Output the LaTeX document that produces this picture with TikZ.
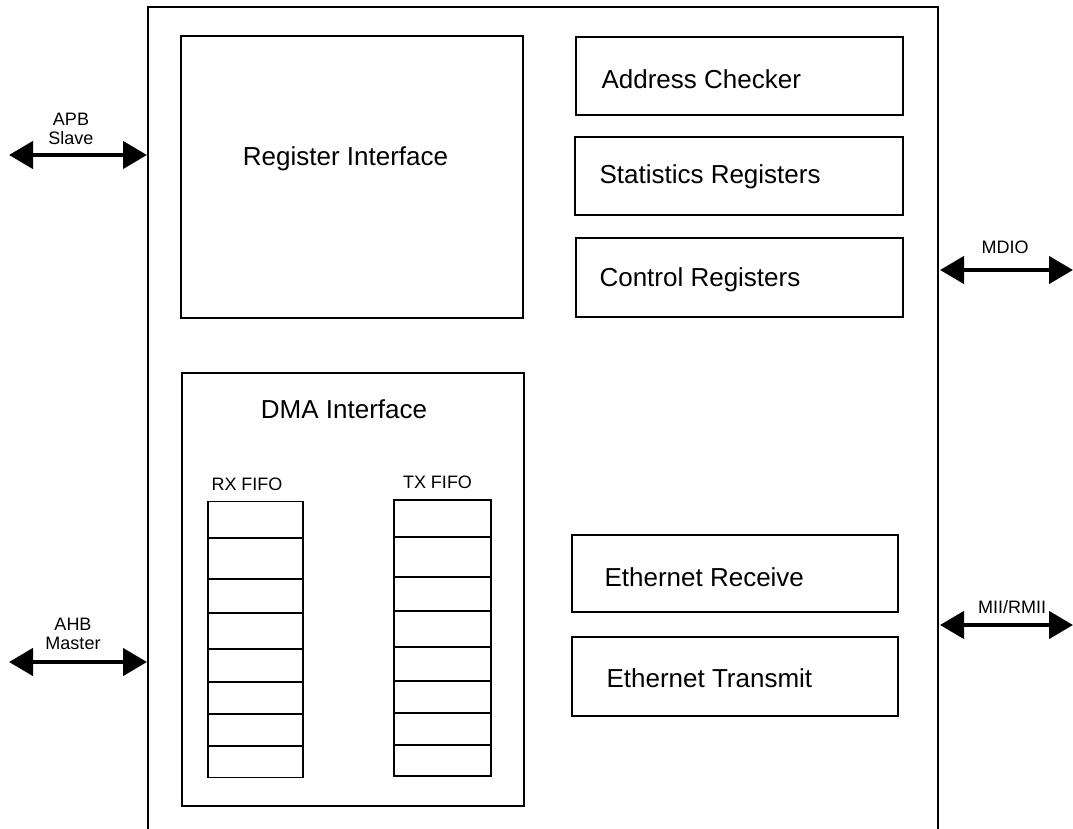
\documentclass[tikz,border=0pt]{standalone}
\usepackage{fontspec}
\setmainfont{Liberation Sans}
\usetikzlibrary{arrows.meta}
\begin{document}
\begin{tikzpicture}[x=1pt,y=-1pt,
  blk/.style={draw, line width=1.8pt, rectangle, inner sep=0pt},
  big/.style={font=\fontsize{26}{30}\selectfont},
  small/.style={font=\fontsize{18}{19}\selectfont, align=center},
  fifo/.style={font=\fontsize{18}{20}\selectfont},
  bus/.style={line width=4.5pt, {Triangle[length=24pt,width=27pt]}-{Triangle[length=24pt,width=27pt]}},
  fline/.style={line width=1.8pt}]
\useasboundingbox (0,0) rectangle (1073,829);
% outer block (open at bottom)
\coordinate (oBL) at (148,829);
\coordinate (oTL) at (148,7);
\coordinate (oTR) at (938,7);
\coordinate (oBR) at (938,829);
\draw[line width=2pt] (oBL) -- (oTL) -- (oTR) -- (oBR);
% register interface
\node[blk, minimum width=342pt, minimum height=282pt] (reg) at (352,177) {};
\node[big] (regt) at (345.5,159) {Register Interface};
% right boxes
\node[blk, minimum width=327pt, minimum height=78pt] (addr) at (739.5,76) {};
\node[big, anchor=west] (addrt) at (598,79) {Address Checker};
\node[blk, minimum width=328pt, minimum height=78pt] (stat) at (739,176) {};
\node[big, anchor=west] (statt) at (596,177) {Statistics Registers};
\node[blk, minimum width=327pt, minimum height=79pt] (ctrl) at (739.5,277.5) {};
\node[big, anchor=west] (ctrlt) at (596,280) {Control Registers};
% DMA
\node[blk, minimum width=342pt, minimum height=433pt] (dma) at (353,589.5) {};
\node[big] (dmat) at (344,409) {DMA Interface};
% FIFOs
\node[fifo] (rxt) at (247,484) {RX FIFO};
\node[blk, minimum width=95pt, minimum height=276pt] (rx) at (255.5,639.5) {};
\foreach \yy in {538,579,613,649,682,714,746}
  \draw[fline] (rx.west |- 0,\yy) -- (rx.east |- 0,\yy);
\node[fifo] (txt) at (437.5,482) {TX FIFO};
\node[blk, minimum width=97pt, minimum height=276pt] (tx) at (442.5,638) {};
\foreach \yy in {537,577,611,647,681,713,745}
  \draw[fline] (tx.west |- 0,\yy) -- (tx.east |- 0,\yy);
% Ethernet
\node[blk, minimum width=326pt, minimum height=77pt] (erx) at (735,573.5) {};
\node[big, anchor=west] (erxt) at (601,577) {Ethernet Receive};
\node[blk, minimum width=326pt, minimum height=79pt] (etx) at (735,676.5) {};
\node[big, anchor=west] (etxt) at (603,678) {Ethernet Transmit};
% buses
\coordinate (apbL) at (9,155);
\coordinate (apbR) at (147,155);
\draw[bus] (apbL) -- (apbR);
\node[small] (apbt) at (71,129) {APB\\Slave};
\coordinate (ahbL) at (9,662);
\coordinate (ahbR) at (147,662);
\draw[bus] (ahbL) -- (ahbR);
\node[small] (ahbt) at (73,634) {AHB\\Master};
\coordinate (mdL) at (940,270);
\coordinate (mdR) at (1073,270);
\draw[bus] (mdL) -- (mdR);
\node[small] (mdt) at (1005,247) {MDIO};
\coordinate (miL) at (940,625);
\coordinate (miR) at (1073,625);
\draw[bus] (miL) -- (miR);
\node[small] (mit) at (1012,607) {MII/RMII};
\end{tikzpicture}
\end{document}
